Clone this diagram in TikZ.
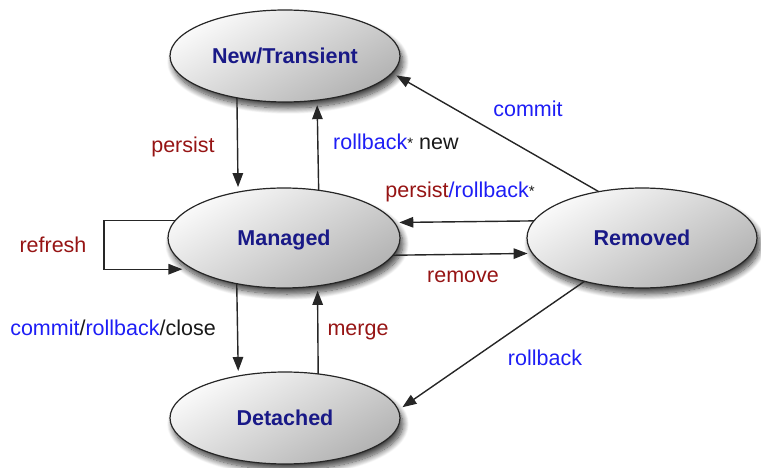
\documentclass[tikz,border=0pt]{standalone}
\usepackage{fontspec}
\setmainfont{Liberation Sans}
\usetikzlibrary{shapes.geometric,arrows.meta,shadows.blur}
\definecolor{navytext}{RGB}{25,25,135}
\definecolor{lblred}{RGB}{150,20,20}
\definecolor{lblblue}{RGB}{30,30,245}
\definecolor{lblblack}{RGB}{25,25,25}
\newcommand{\smallstar}{{\fontsize{15}{15}\selectfont\raisebox{1.5pt}{*}}}
\begin{document}
\begin{tikzpicture}[x=1pt,y=-1pt,
  state/.style={ellipse, draw=black!85, line width=1.2pt, minimum width=230pt, minimum height=92pt,
    inner sep=0pt, outer sep=0pt, top color=gray!4, bottom color=gray!60, shading angle=30,
    font=\bfseries\fontsize{21.5}{24}\selectfont, text=navytext, text height=15.5pt, text depth=0pt,
    blur shadow={shadow xshift=3pt, shadow yshift=-6pt, shadow blur steps=12, shadow blur radius=6pt, shadow opacity=75}},
  arr/.style={-{Triangle[length=14pt,width=10.5pt]}, line width=1.4pt, draw=black!85, shorten >=5pt},
  lbl/.style={font=\fontsize{21.5}{24}\selectfont, anchor=base, inner sep=0pt, text=lblblack}]
\useasboundingbox (0,0) rectangle (761,468);

\node[state] (new) at (285,56) {New/Transient};
\node[state, minimum width=232pt, minimum height=100pt] (managed) at (284,238) {Managed};
\node[state, minimum width=230pt, minimum height=100pt] (removed) at (642,238) {Removed};
\node[state] (detached) at (285,418) {Detached};

% vertical arrows
\draw[arr] (new.221.05) -- (managed.135.8);
\draw[arr] (managed.54.6) -- (new.306.8);
\draw[arr] (managed.224.2) -- (detached.138.95);
\draw[arr] (detached.53.2) -- (managed.305.4);

% horizontal arrows
\draw[arr] (removed.171.72) -- (managed.8.28);
\draw[arr] (managed.351.13) -- (removed.188.87);

% diagonal arrows
\draw[arr] (removed.133.6) -- (new.351);
\draw[arr] (removed.217.3) -- (detached.4);

% refresh loop
\draw[arr, shorten >=11pt] (managed.171.72) -- ++(-71,0) |- (managed.199.75);

% labels
\node[lbl, text=lblred] (lpersist) at (183,153) {persist};
\node[lbl, anchor=base west] (lrbnew) at (333,150) {\textcolor{lblblue}{rollback}\smallstar{} new};
\node[lbl, text=lblblue] (lcommit) at (528,117) {commit};
\node[lbl] (lpr) at (460,198) {\textcolor{lblred}{persist}\textcolor{lblblue}{/rollback}\smallstar};
\node[lbl, text=lblred] (lremove) at (463,282) {remove};
\node[lbl, text=lblred] (lrefresh) at (53,252) {refresh};
\node[lbl] (lcrc) at (113,335) {\textcolor{lblblue}{commit}/\textcolor{lblblue}{rollback}/close};
\node[lbl, text=lblred] (lmerge) at (358,335) {merge};
\node[lbl, text=lblblue] (lrb) at (545,365) {rollback};
\end{tikzpicture}
\end{document}
